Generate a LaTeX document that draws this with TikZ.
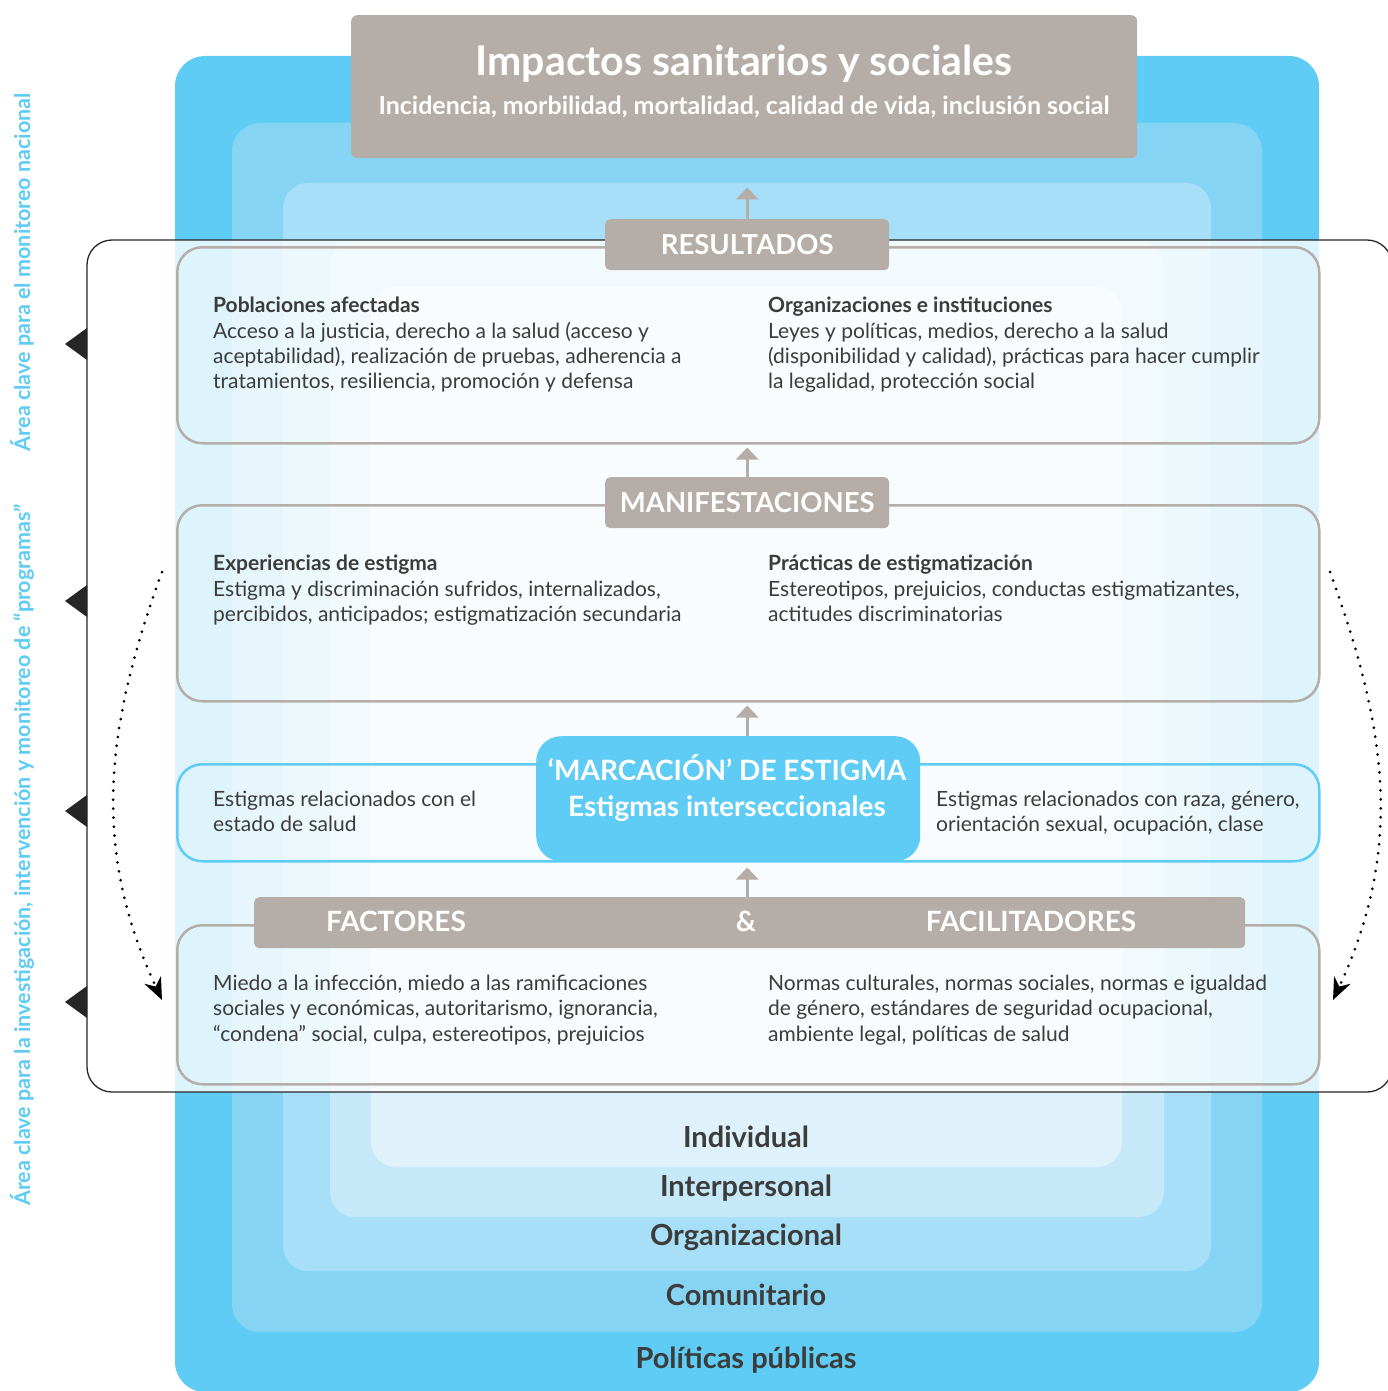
\documentclass[tikz,border=0pt]{standalone}
\usepackage{fontspec}
\setmainfont{Lato}
\usetikzlibrary{arrows.meta}
\definecolor{layerA}{HTML}{5ECCF5}
\definecolor{layerB}{HTML}{86D4F4}
\definecolor{layerC}{HTML}{A7DFF8}
\definecolor{layerD}{HTML}{C5E9F9}
\definecolor{layerE}{HTML}{DFF2FB}
\definecolor{tabgray}{HTML}{B5ADA7}
\definecolor{txtgray}{HTML}{3C3C3B}
\begin{document}
\begin{tikzpicture}[x=1pt,y=-1pt,
  tab/.style={fill=tabgray, rounded corners=5pt, text=white, font=\fontsize{27.5}{30}\selectfont\bfseries, inner sep=0pt},
  tabtext/.style={text=white, font=\fontsize{28}{30}\selectfont\bfseries, inner sep=0pt},
  secbox/.style={draw=tabgray, line width=2.5pt, rounded corners=25pt, inner sep=0pt, minimum width=1142pt, anchor=north west},
  body/.style={text=txtgray, font=\fontsize{21}{25.3}\selectfont, align=left, anchor=north west, inner sep=0pt},
  level/.style={text=txtgray, font=\fontsize{29}{32}\selectfont\bfseries, inner sep=0pt},
  side/.style={text=layerA, font=\fontsize{21.5}{24}\selectfont\bfseries, rotate=90, inner sep=0pt},
  uparrow/.style={draw=tabgray, line width=3pt, -{Triangle[length=12pt,width=22pt]}},
  loop/.style={black, line width=3pt, dash pattern=on 0pt off 9pt, line cap=round, -{Stealth[length=22pt,width=18pt]}}]
\useasboundingbox (0,0) rectangle (1388,1391);
% levels
\fill[layerA, rounded corners=30pt] (175,56) rectangle (1319,1392);
\fill[layerB, rounded corners=28pt] (232,123) rectangle (1262,1332);
\fill[layerC, rounded corners=25pt] (283,183) rectangle (1211,1271);
\fill[layerD, rounded corners=25pt] (330,242) rectangle (1164,1217);
\fill[layerE, rounded corners=25pt] (371,287) rectangle (1122,1167);
\node[level] (indiv) at (746,1137) {Individual};
\node[level] (inter) at (746,1188) {Interpersonal};
\node[level] (organ) at (746,1237) {Organizacional};
\node[level] (comun) at (746,1295) {Comunitario};
\node[level] (polit) at (746,1360) {Políticas públicas};
% frame
\fill[white, opacity=0.8, rounded corners=25pt] (87,240) rectangle (1392,1092);
\draw[black!85, line width=1.3pt, rounded corners=25pt] (87,240) rectangle (1392,1092);
\foreach \y in {344,601,811,1002}
  \fill[black!85] (87,\y-16) -- (65,\y) -- (87,\y+16) -- cycle;
\node[side] (sideA) at (22,272) {Área clave para el monitoreo nacional};
\node[side] (sideB) at (22,855) {Área clave para la investigación, intervención y monitoreo de “programas”};
% header
\node[tab, rounded corners=6pt, minimum width=786pt, minimum height=143pt, anchor=north west] (head) at (351,15) {};
\node[text=white, font=\fontsize{41}{44}\selectfont\bfseries] (title) at (744,64) {Impactos sanitarios y sociales};
\node[text=white, font=\fontsize{25}{28}\selectfont\bfseries] (subtitle) at (744,107) {Incidencia, morbilidad, mortalidad, calidad de vida, inclusión social};
% boxes
\node[secbox, minimum height=196pt] (resbox) at (176,246) {};
\node[secbox, minimum height=196pt] (manbox) at (176,504) {};
\node[secbox, draw=layerA, minimum height=97pt] (estbox) at (176,763) {};
\node[secbox, minimum height=159pt] (facbox) at (176,924) {};
\node[tab, minimum width=284pt, minimum height=51pt, anchor=north west] (res) at (605,219) {RESULTADOS};
\node[tab, minimum width=284pt, minimum height=51pt, anchor=north west] (man) at (605,477) {MANIFESTACIONES};
\node[tab, fill=layerA, rounded corners=25pt, minimum width=384pt, minimum height=125pt, anchor=north west] (marc) at (536,736) {};
\node[tabtext] (marctitle) at (727,768) {‘MARCACIÓN’ DE ESTIGMA};
\node[tabtext] (marcsub) at (727,809) {Estigmas interseccionales};
\node[tab, minimum width=991pt, minimum height=51pt, anchor=north west] (fac) at (254,897) {};
\node[tabtext] (facA) at (396,921) {FACTORES};
\node[tabtext] (facB) at (746,921) {\&};
\node[tabtext] (facC) at (1031,921) {FACILITADORES};
% texts
\node[body] (resL) at (213,297) {\textbf{Poblaciones afectadas}\\Acceso a la justicia, derecho a la salud (acceso y\\aceptabilidad), realización de pruebas, adherencia a\\tratamientos, resiliencia, promoción y defensa};
\node[body] (resR) at (768,297) {\textbf{Organizaciones e instituciones}\\Leyes y políticas, medios, derecho a la salud\\(disponibilidad y calidad), prácticas para hacer cumplir\\la legalidad, protección social};
\node[body] (manL) at (213,555) {\textbf{Experiencias de estigma}\\Estigma y discriminación sufridos, internalizados,\\percibidos, anticipados; estigmatización secundaria};
\node[body] (manR) at (768,555) {\textbf{Prácticas de estigmatización}\\Estereotipos, prejuicios, conductas estigmatizantes,\\actitudes discriminatorias};
\node[body] (estL) at (213,791) {Estigmas relacionados con el\\estado de salud};
\node[body] (estR) at (936,791) {Estigmas relacionados con raza, género,\\orientación sexual, ocupación, clase};
\node[body] (facL) at (213,975) {Miedo a la infección, miedo a las ramificaciones\\sociales y económicas, autoritarismo, ignorancia,\\“condena” social, culpa, estereotipos, prejuicios};
\node[body] (facR) at (768,975) {Normas culturales, normas sociales, normas e igualdad\\de género, estándares de seguridad ocupacional,\\ambiente legal, políticas de salud};
% arrows
\draw[uparrow, shorten >=29pt] (res.north) -- (res.north |- head.south);
\draw[uparrow, shorten >=3pt] (man.north) -- (man.north |- resbox.south);
\draw[uparrow, shorten >=3pt] (marc.north -| man.north) -- (man.north |- manbox.south);
\draw[uparrow, shorten >=5pt] (fac.north -| man.north) -- (man.north |- estbox.south);
\coordinate (loopLa) at (162,572);
\coordinate (loopLb) at (162,1000);
\coordinate (loopRa) at (1330,572);
\coordinate (loopRb) at (1333,1000);
\draw[loop] (loopLa) to[out=250,in=115] (loopLb);
\draw[loop] (loopRa) to[out=290,in=65] (loopRb);
\end{tikzpicture}
\end{document}
